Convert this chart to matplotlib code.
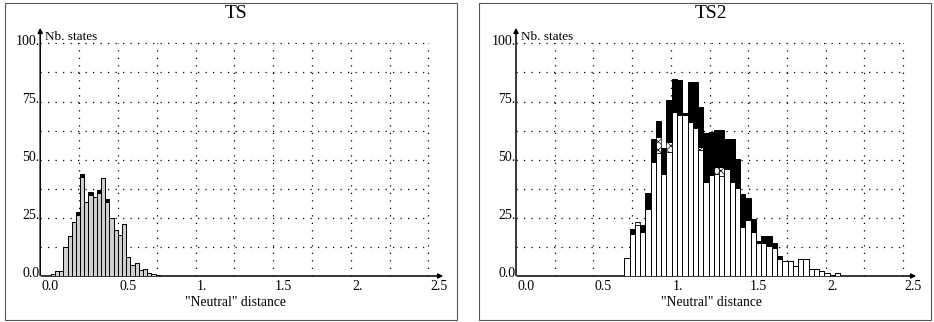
import numpy as np
import matplotlib
matplotlib.use('Agg')
import matplotlib.pyplot as plt
from matplotlib.patches import Rectangle

plt.rcParams['font.family'] = ['Liberation Serif', 'DejaVu Serif']
plt.rcParams['hatch.linewidth'] = 0.5

# TS histogram (narrow bins), light grey bars with a few black caps
ts_start, ts_width = 0.068, 0.027
ts_grey = [1, 2, 2, 12.6, 17.2, 23.4, 26.4, 42.5, 32, 34.8, 34, 35.8, 42,
           31.8, 25, 19.8, 17.6, 22.3, 8.3, 4.7, 5.4, 2.6, 2.9, 1.1, 0.7, 0.4]
ts_black = [0, 0, 0, 0, 0, 0, 1.2, 1.2, 0, 1.2, 0, 1.2, 0,
            1.2, 0, 0, 0, 0, 0, 0, 0, 0, 0, 0, 0, 0]

# TS2 histogram: white / hatched / black stacked parts
ts2_start, ts2_width = 0.7, 0.034
ts2_white = [7.6, 17.9, 22, 19, 29, 49, 53, 44, 53.4, 70.6, 69.2, 69, 66.3,
             63.5, 54, 40.5, 43.4, 44, 43, 46.2, 40.5, 37.7, 21.2, 24.1, 19,
             14.3, 14, 13, 12, 7.5, 6.4, 6.4, 4.3, 7.3, 7.3, 2.9, 2.9, 2.1,
             1.1, 0.4, 1.1]
ts2_hatch = [0, 0, 1, 0, 0, 0, 6.9, 0, 4.3, 0, 0, 0, 0,
             0, 1.5, 0, 0, 3, 4, 0, 0, 0, 0, 0, 0,
             0, 0, 0, 0, 0, 0, 0, 0, 0, 0, 0, 0, 0,
             0, 0, 0]
ts2_black = [0, 2.4, 0, 2.9, 6.8, 9.7, 6.9, 10.9, 17.9, 13.9, 15, 1, 17.2,
             20, 17.3, 20.8, 18.6, 15.8, 15.8, 12.9, 18.6, 12.5, 14, 9.6, 5.4,
             0.7, 3.2, 4.2, 2.3, 1.1, 0, 0, 0, 0, 0, 0, 0, 0,
             0, 0, 0]

x_ticks = [0, 0.5, 1, 1.5, 2, 2.5]
x_labels = ['0.0', '0.5', '1.', '1.5', '2.', '2.5']
y_ticks = [0, 25, 50, 75, 100]
y_labels = ['0.0', '25.', '50.', '75.', '100.']

W, H = 934, 322
fig = plt.figure(figsize=(W / 100, H / 100), dpi=100)

YMAX = 107.9


def panel(x0_px, x_end_px, unit_px, title):
    ax = fig.add_axes([x0_px / W, 46 / H, (x_end_px - x0_px) / W, 251 / H])
    xmax = (x_end_px - x0_px) / unit_px
    ax.set_xlim(0, xmax)
    ax.set_ylim(0, YMAX)
    ax.axis('off')
    for x in np.arange(0.25, 2.51, 0.25):
        ax.plot([x, x], [0, 100], color='k', lw=0.9, ls=(0, (1, 5)), zorder=1)
    for y in np.arange(12.5, 100.1, 12.5):
        ax.plot([0, 2.5], [y, y], color='k', lw=0.9, ls=(0, (1, 5)), zorder=1)
    arrow = dict(arrowstyle='-|>', lw=1.1, color='k', mutation_scale=7)
    ax.annotate('', xy=(xmax, 0), xytext=(-0.01, 0), arrowprops=arrow,
                annotation_clip=False)
    ax.annotate('', xy=(0, YMAX), xytext=(0, -1), arrowprops=arrow,
                annotation_clip=False)
    for x, lab in zip(x_ticks, x_labels):
        ax.text(x + 0.01, -1.8, lab, ha='left', va='top', fontsize=10,
                clip_on=False)
    for y, lab in zip(y_ticks, y_labels):
        ax.text(-0.004, y - 0.6, lab, ha='right', va='baseline', fontsize=10,
                clip_on=False)
    ax.text(0.03, 101.4, 'Nb. states', ha='left', va='baseline', fontsize=9.5)
    ax.text(1.26, -11.2, '"Neutral" distance', ha='center', va='center',
            fontsize=9.8, clip_on=False)
    ax.text(1.26, (276 - 13) / 2.327, title, ha='center', va='center',
            fontsize=14, clip_on=False)
    return ax


ax1 = panel(40.2, 446, 155.3, 'TS')
edges = ts_start + ts_width * np.arange(len(ts_grey))
ax1.bar(edges, ts_grey, width=ts_width, align='edge', color='#cfcfcf',
        edgecolor='k', lw=0.7, zorder=3)
ax1.bar(edges, ts_black, bottom=ts_grey, width=ts_width, align='edge',
        color='k', edgecolor='k', lw=0.7, zorder=3)

ax2 = panel(516, 919, 154.8, 'TS2')
edges2 = ts2_start + ts2_width * np.arange(len(ts2_white))
white = np.array(ts2_white)
hatch = np.array(ts2_hatch)
ax2.bar(edges2, white, width=ts2_width, align='edge', color='white',
        edgecolor='k', lw=0.7, zorder=3)
ax2.bar(edges2, hatch, bottom=white, width=ts2_width, align='edge',
        color='white', hatch='xxxx', edgecolor='k', lw=0.5, zorder=3)
ax2.bar(edges2, ts2_black, bottom=white + hatch, width=ts2_width,
        align='edge', color='k', edgecolor='k', lw=0.7, zorder=3)

for fx in (5, 479):
    fig.patches.append(Rectangle((fx / W, 2 / H), 452 / W, 317 / H,
                                 transform=fig.transFigure, fill=False,
                                 edgecolor='#555555', lw=0.8))

fig.savefig('out.png', dpi=100)
